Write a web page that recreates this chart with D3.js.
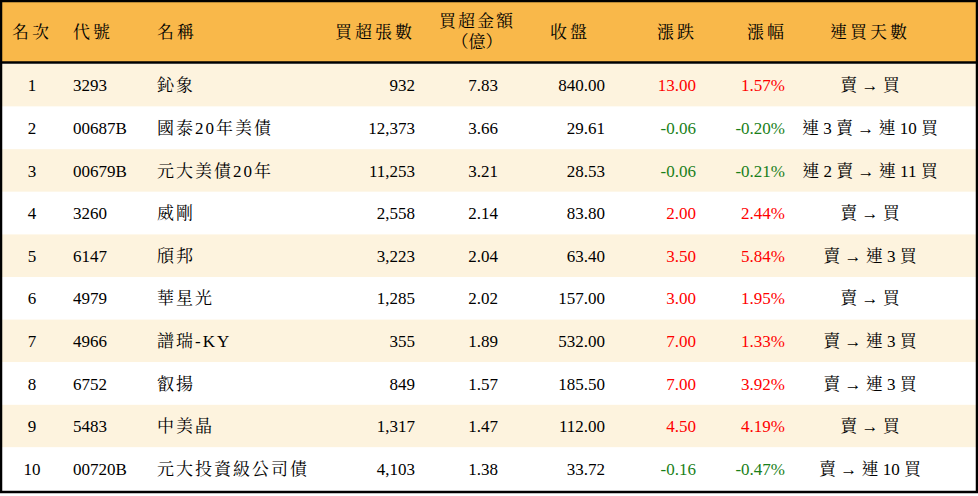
<!DOCTYPE html><html><head><meta charset="utf-8"><script src="https://cdn.jsdelivr.net/npm/d3@7"></script>
<style>body{margin:0;background:#fff}</style></head><body><svg id="c" width="978" height="496"></svg>
<script>
const headers=["名次","代號","名稱","買超張數","買超金額","收盤","漲跌","漲幅","連買天數"];
const ranks=[1,2,3,4,5,6,7,8,9,10];
const codes=["3293","00687B","00679B","3260","6147","4979","4966","6752","5483","00720B"];
const names=["鈊象","國泰20年美債","元大美債20年","威剛","頎邦","華星光","譜瑞-KY","叡揚","中美晶","元大投資級公司債"];
const lots=["932","12,373","11,253","2,558","3,223","1,285","355","849","1,317","4,103"];
const amounts=["7.83","3.66","3.21","2.14","2.04","2.02","1.89","1.57","1.47","1.38"];
const closes=["840.00","29.61","28.53","83.80","63.40","157.00","532.00","185.50","112.00","33.72"];
const changes=["13.00","-0.06","-0.06","2.00","3.50","3.00","7.00","7.00","4.50","-0.16"];
const pcts=["1.57%","-0.20%","-0.21%","2.44%","5.84%","1.95%","1.33%","3.92%","4.19%","-0.47%"];
const streaks=["賣 → 買","連 3 賣 → 連 10 買","連 2 賣 → 連 11 買","賣 → 買","賣 → 連 3 買","賣 → 買","賣 → 連 3 買","賣 → 連 3 買","賣 → 買","賣 → 連 10 買"];
const svg=d3.select("#c");
const font="'Liberation Serif','Noto Serif CJK TC','Noto Sans CJK TC',serif";
const y=d3.scaleBand().domain(ranks).range([64,490]);
svg.append("rect").attr("x",1).attr("y",1).attr("width",976).attr("height",62).attr("fill","#f9b84a");
svg.selectAll(".row").data(ranks).join("rect").attr("x",1).attr("width",976).attr("y",d=>y(d)).attr("height",y.bandwidth()).attr("fill",(d,i)=>i%2?"#fff":"#fdf3de");
svg.append("line").attr("x1",0).attr("x2",978).attr("y1",62.5).attr("y2",62.5).attr("stroke","#000").attr("stroke-width",2.5);
svg.append("rect").attr("x",1).attr("y",1).attr("width",976).attr("height",491).attr("fill","none").attr("stroke","#000").attr("stroke-width",2.5);
const hcols=[{x:32,a:"middle"},{x:73,a:"start"},{x:157,a:"start"},{x:415,a:"end"},{x:477,a:"middle"},{x:570,a:"middle"},{x:677,a:"middle"},{x:767,a:"middle"},{x:870,a:"middle"}];
const g=svg.append("g").attr("font-family",font).attr("font-size",17);
headers.forEach((h,i)=>{
  const c=hcols[i];
  if(h==="買超金額"){
    g.append("text").attr("x",c.x).attr("y",27).attr("text-anchor","middle").attr("letter-spacing",2).text(h);
    g.append("text").attr("x",c.x).attr("y",48).attr("text-anchor","middle").text("（億）");
  } else g.append("text").attr("x",c.x).attr("y",38).attr("text-anchor",c.a).attr("letter-spacing",3).text(h);
});
const red="#f00",green="#1a7f1a";
const cols=[
 {d:ranks,x:32,a:"middle"},{d:codes,x:73,a:"start"},{d:names,x:157,a:"start",ls:2},
 {d:lots,x:415,a:"end"},{d:amounts,x:498,a:"end"},{d:closes,x:605,a:"end"},
 {d:changes,x:696,a:"end",col:true},{d:pcts,x:785,a:"end",col:true},{d:streaks,x:870,a:"middle"}];
cols.forEach(c=>{
  g.selectAll(null).data(c.d).join("text").attr("x",c.x).attr("y",(d,i)=>y(ranks[i])+y.bandwidth()/2+6)
   .attr("text-anchor",c.a).attr("letter-spacing",c.ls||0)
   .attr("fill",d=>c.col?(String(d).startsWith("-")?green:red):"#000").text(d=>d);
});
</script></body></html>
